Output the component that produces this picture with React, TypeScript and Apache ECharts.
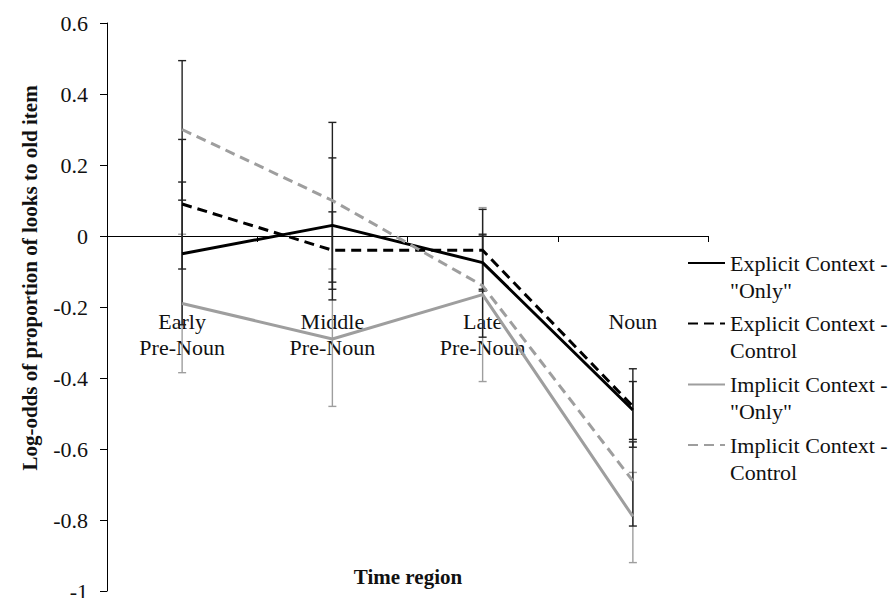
import React, { useEffect, useRef } from "react";
import * as echarts from "echarts";

const categories = ["Early\nPre-Noun", "Middle\nPre-Noun", "Late\nPre-Noun", "Noun"];
const seriesNames = [
  'Explicit Context -\n"Only"',
  "Explicit Context -\nControl",
  'Implicit Context -\n"Only"',
  "Implicit Context -\nControl",
];
const explicitOnly = [-0.05, 0.03, -0.075, -0.49];
const explicitControl = [0.09, -0.04, -0.04, -0.48];
const implicitOnly = [-0.19, -0.29, -0.165, -0.79];
const implicitControl = [0.3, 0.1, -0.14, -0.69];
// error bar ends (upper, lower)
const explicitOnlyUpper = [0.152, 0.22, 0.0, -0.374];
const explicitOnlyLower = [-0.25, -0.18, -0.15, -0.595];
const explicitControlUpper = [0.272, 0.068, 0.075, -0.41];
const explicitControlLower = [-0.093, -0.15, -0.155, -0.573];
const implicitOnlyUpper = [0.005, -0.093, 0.08, -0.666];
const implicitOnlyLower = [-0.385, -0.48, -0.41, -0.92];
const implicitControlUpper = [0.494, 0.32, 0.005, -0.58];
const implicitControlLower = [0.101, -0.13, -0.285, -0.817];
const yTicks = { min: -1, max: 0.6, interval: 0.2 };

const FONT = "'Liberation Serif', 'Times New Roman', serif";
const BLACK = "#000000";
const GRAY = "#9e9e9e";
const BAR_DARK = "#222222";

export default function App() {
  const ref = useRef<HTMLDivElement>(null);
  useEffect(() => {
    if (!ref.current) return;
    const chart = echarts.init(ref.current, undefined, { renderer: "svg" });
    const values = [explicitOnly, explicitControl, implicitOnly, implicitControl];
    const uppers = [explicitOnlyUpper, explicitControlUpper, implicitOnlyUpper, implicitControlUpper];
    const lowers = [explicitOnlyLower, explicitControlLower, implicitOnlyLower, implicitControlLower];
    const colors = [BLACK, BLACK, GRAY, GRAY];
    const barColors = [BAR_DARK, BAR_DARK, GRAY, BAR_DARK];
    const dashed = [false, true, false, true];

    const errSeries = values.map((_, i) => ({
      type: "custom",
      name: "err" + i,
      z: i === 2 ? 1 : 2,
      data: categories.map((_c, j) => [j, lowers[i][j], uppers[i][j]]),
      encode: { x: 0, y: [1, 2] },
      renderItem: (params: any, api: any) => {
        const x = api.value(0);
        const lo = api.coord([x, api.value(1)]);
        const hi = api.coord([x, api.value(2)]);
        const w = 4;
        const style = { stroke: barColors[i], lineWidth: 1.4 };
        return {
          type: "group",
          children: [
            { type: "line", shape: { x1: lo[0], y1: lo[1], x2: hi[0], y2: hi[1] }, style },
            { type: "line", shape: { x1: lo[0] - w, y1: lo[1], x2: lo[0] + w, y2: lo[1] }, style },
            { type: "line", shape: { x1: hi[0] - w, y1: hi[1], x2: hi[0] + w, y2: hi[1] }, style },
          ],
        };
      },
    }));

    const lineSeries = values.map((v, i) => ({
      type: "line",
      name: seriesNames[i],
      data: v,
      symbol: "none",
      z: 3,
      lineStyle: { color: colors[i], width: 3, type: dashed[i] ? [10, 6] : "solid" },
      itemStyle: { color: colors[i] },
    }));

    const legendCenters = [263, 323.5, 384.5, 445];
    const legends = seriesNames.map((n, i) => ({
      data: [n],
      orient: "vertical",
      left: 687,
      top: legendCenters[i] - 40.5,
      padding: 0,
      itemWidth: 37,
      itemHeight: 14,
      selectedMode: false,
      itemStyle: { opacity: 0 },
      formatter: (name: string) => "\n" + name,
      textStyle: {
        fontFamily: FONT,
        fontSize: 22,
        lineHeight: 27,
        color: "#111",
      },
    }));

    chart.setOption({
      animation: false,
      backgroundColor: "#ffffff",
      grid: { left: 107, right: 187, top: 23, bottom: 7, containLabel: false, outerBoundsMode: "none" },
      legend: legends,
      xAxis: {
        type: "category",
        data: categories,
        boundaryGap: true,
        axisLine: { onZero: true, lineStyle: { color: "#000", width: 1 } },
        axisTick: { show: true, length: 6, lineStyle: { color: "#000" } },
        axisLabel: {
          margin: -283,
          fontFamily: FONT,
          fontSize: 22,
          lineHeight: 26,
          color: "#111",
          interval: 0,
        },
        splitLine: { show: false },
      },
      yAxis: {
        type: "value",
        min: yTicks.min,
        max: yTicks.max,
        interval: yTicks.interval,
        axisLine: { show: true, lineStyle: { color: "#000", width: 1 } },
        axisTick: { show: true, length: 7, lineStyle: { color: "#000" } },
        axisLabel: {
          margin: 19,
          fontFamily: FONT,
          fontSize: 22,
          color: "#111",
          formatter: (v: number) => String(Math.round(v * 10) / 10),
        },
        splitLine: { show: false },
      },
      graphic: [
        {
          type: "text",
          x: 30,
          y: 278,
          rotation: Math.PI / 2,
          style: {
            text: "Log-odds of proportion of looks to old item",
            fontFamily: FONT,
            fontWeight: "bold",
            fontSize: 21,
            fill: "#111",
            align: "center",
            verticalAlign: "middle",
          },
        },
        {
          type: "text",
          x: 408,
          y: 577,
          style: {
            text: "Time region",
            fontFamily: FONT,
            fontWeight: "bold",
            fontSize: 21,
            fill: "#111",
            align: "center",
            verticalAlign: "middle",
          },
        },
      ],
      series: [...errSeries, ...lineSeries],
    });
    return () => chart.dispose();
  }, []);
  return <div ref={ref} style={{ width: 895, height: 598, position: "absolute", left: 0, top: 0 }} />;
}
